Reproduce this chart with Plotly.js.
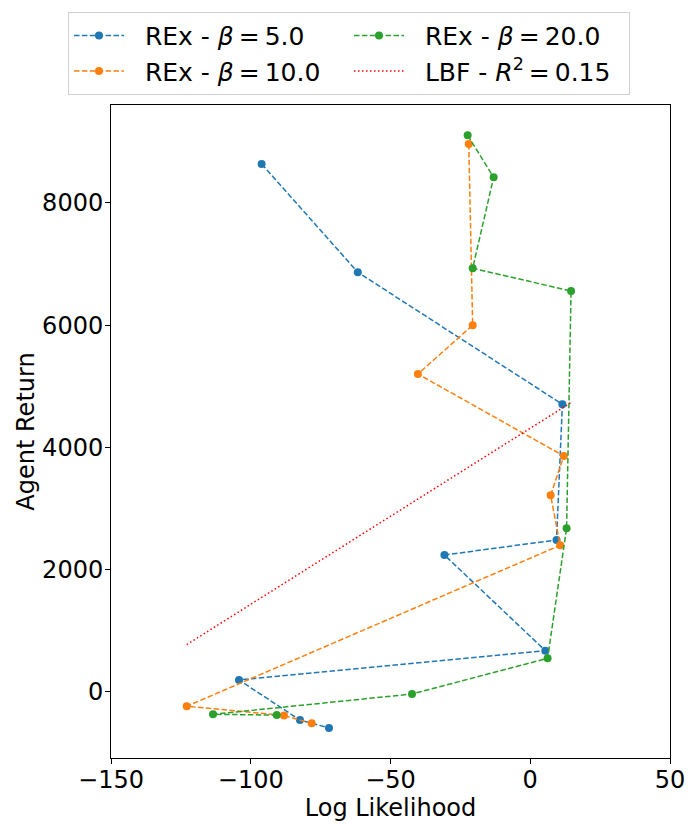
<!DOCTYPE html>
<html>
<head>
<meta charset="utf-8">
<script src="https://cdn.plot.ly/plotly-3.0.1.min.js"></script>
<style>
  body { margin: 0; background: #fff; }
  #chart { width: 698px; height: 831px; }
</style>
</head>
<body>
<div id="chart"></div>
<script>
// Log likelihood vs agent return, one series per beta
const beta5X = [-96.1, -61.7, 11.5, 9.4, -30.7, 5.4, -104.2, -82.4, -72.0];
const beta5Y = [8638, 6867, 4707, 2487, 2241, 676, 196, -458, -589];

const beta10X = [-22.0, -20.6, -40.2, 12.0, 7.3, 10.7, -122.9, -88.1, -78.2];
const beta10Y = [8965, 6000, 5202, 3861, 3218, 2400, -234, -385, -513];

const beta20X = [-22.4, -13.1, -20.6, 14.6, 13.0, 6.2, -42.3, -113.5, -90.7];
const beta20Y = [9107, 8420, 6932, 6560, 2678, 551, -33, -365, -378];

// line of best fit
const lbfX = [-122.9, 14.6];
const lbfY = [775, 4735];

const yTicks = [0, 2000, 4000, 6000, 8000];
const xTicks = [-150, -100, -50, 0, 50];

const dash = '5.5px,2.4px';
const pad = '\u00a0\u00a0'; // gap between legend symbol and text
const thin = '\u2009';

function rexTrace(x, y, beta, color, rank) {
    return {
        x: x, y: y,
        name: pad + 'REx - <i>β</i>' + thin + '=' + thin + beta,
        type: 'scatter', mode: 'lines+markers',
        line: { color: color, width: 1.5, dash: dash },
        marker: { color: color, size: 8 },
        legendrank: rank
    };
}

const data = [
    rexTrace(beta5X, beta5Y, '5.0', '#1f77b4', 1),
    rexTrace(beta10X, beta10Y, '10.0', '#ff7f0e', 3),
    rexTrace(beta20X, beta20Y, '20.0', '#2ca02c', 2),
    {
        x: lbfX, y: lbfY,
        name: pad + 'LBF - <i>R</i><sup>2</sup>' + thin + '=' + thin + '0.15',
        type: 'scatter', mode: 'lines',
        line: { color: 'red', width: 1.5, dash: '1.5px,2.5px' },
        legendrank: 4
    }
];

const axisStyle = {
    showgrid: false, zeroline: false,
    showline: true, linecolor: '#000', linewidth: 1, mirror: true,
    ticks: 'outside', ticklen: 5, tickcolor: '#000',
    tickfont: { size: 24, color: '#000' }
};

const layout = {
    width: 698, height: 831,
    margin: { l: 111, r: 28, t: 105, b: 73, autoexpand: false },
    paper_bgcolor: '#fff', plot_bgcolor: '#fff',
    font: { family: 'DejaVu Sans', color: '#000' },
    showlegend: true,
    legend: {
        orientation: 'h',
        xref: 'container', yref: 'container',
        x: 0.5, xanchor: 'center', y: 0.986, yanchor: 'top',
        itemwidth: 50,
        entrywidth: 215,
        bordercolor: '#d0d0d0', borderwidth: 1,
        font: { size: 25 }
    },
    xaxis: Object.assign({}, axisStyle, {
        range: [-150, 50], tickvals: xTicks,
        ticklabelstandoff: -5,
        title: { text: 'Log Likelihood', font: { size: 24 }, standoff: 2 }
    }),
    yaxis: Object.assign({}, axisStyle, {
        range: [-1080, 9603], tickvals: yTicks,
        ticklabelstandoff: -3,
        title: { text: 'Agent Return', font: { size: 24 }, standoff: 0 }
    })
};

Plotly.newPlot('chart', data, layout, { displayModeBar: false });
</script>
</body>
</html>
